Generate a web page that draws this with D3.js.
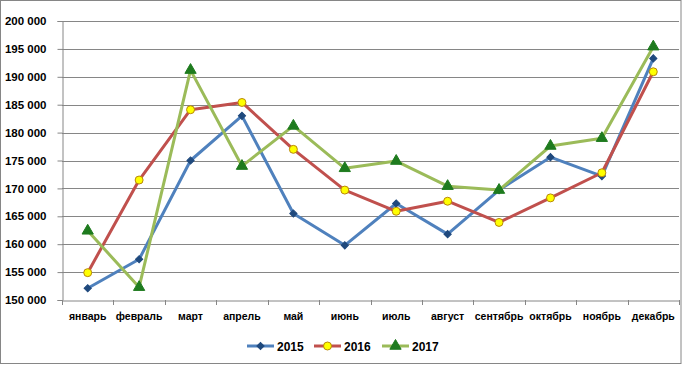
<!DOCTYPE html>
<html><head><meta charset="utf-8">
<script src="https://cdn.jsdelivr.net/npm/d3@7"></script>
<style>body{margin:0;background:#fff}svg{display:block}text{font-family:"Liberation Sans",Arial,sans-serif;font-weight:bold;fill:#000}</style>
</head><body>
<svg id="c" width="682" height="365"></svg>
<script>
const months = ["январь","февраль","март","апрель","май","июнь","июль","август","сентябрь","октябрь","ноябрь","декабрь"];
const s2015 = [152100,157300,175000,183000,165500,159800,167300,161800,169700,175600,172200,193300];
const s2016 = [154900,171500,184100,185400,177000,169700,165900,167700,163900,168300,172800,190900];
const s2017 = [162400,152300,191200,174000,181200,173600,174900,170400,169700,177600,179000,195400];
const yTicks = [150000,155000,160000,165000,170000,175000,180000,185000,190000,195000,200000];
const seriesNames = ["2015","2016","2017"];

const svg = d3.select("#c");
svg.append("rect").attr("x",0.5).attr("y",0.5).attr("width",680.5).attr("height",363).attr("fill","#fff").attr("stroke","#868686");

const L=62,R=679,T=21,B=300;
const x = d3.scaleBand().domain(months).range([L,R]);
const y = d3.scaleLinear().domain([150000,200000]).range([B,T]);
const fmt = v => d3.format(",")(v).replace(/,/g," ");

svg.append("g").selectAll("line").data(yTicks.slice(1)).join("line")
  .attr("x1",L).attr("x2",R).attr("y1",d=>Math.round(y(d))+0.5).attr("y2",d=>Math.round(y(d))+0.5)
  .attr("stroke","#868686").attr("stroke-width",1);

const ya = svg.append("g").attr("transform",`translate(${L+0.5},0)`)
  .call(d3.axisLeft(y).tickValues(yTicks).tickFormat(fmt).tickSize(5).tickPadding(11));
ya.selectAll("path,line").attr("stroke","#868686");
ya.selectAll("text").style("font-size","11.5px").style("font-family","Liberation Sans, Arial").style("font-weight","bold").attr("fill","#000");

const xa = svg.append("g").attr("transform",`translate(0,${B+0.5})`)
  .call(d3.axisBottom(x).tickSize(0).tickPadding(12));
xa.selectAll("path").attr("stroke","#868686");
xa.selectAll("text").style("font-size","10.5px").style("font-family","Liberation Sans, Arial").style("font-weight","bold").attr("fill","#000");
svg.append("g").selectAll("line").data(d3.range(months.length+1)).join("line")
  .attr("x1",i=>Math.round(L+i*x.step())+0.5).attr("x2",i=>Math.round(L+i*x.step())+0.5)
  .attr("y1",B).attr("y2",B+5).attr("stroke","#868686");

const cx = m => x(m)+x.bandwidth()/2;
const series = [
  {name:"2015",data:s2015,line:"#4F81BD",shape:d3.symbolSquare,rot:45,fill:"#1F497D",stroke:"#1F497D",size:26},
  {name:"2016",data:s2016,line:"#C0504D",shape:d3.symbolCircle,rot:0,fill:"#FFFF00",stroke:"#B8860B",size:50},
  {name:"2017",data:s2017,line:"#9BBB59",shape:d3.symbolTriangle,rot:0,fill:"#1E7B1E",stroke:"#1E7B1E",size:55}
];
const line = d3.line().x((d,i)=>cx(months[i])).y(d=>y(d));
series.forEach(s=>{
  svg.append("path").attr("d",line(s.data)).attr("fill","none").attr("stroke",s.line).attr("stroke-width",3).attr("stroke-linejoin","round");
});
series.forEach(s=>{
  svg.append("g").selectAll("path").data(s.data).join("path")
    .attr("transform",(d,i)=>`translate(${cx(months[i])},${y(d)}) rotate(${s.rot})`)
    .attr("d",d3.symbol().type(s.shape).size(s.size)())
    .attr("fill",s.fill).attr("stroke",s.stroke).attr("stroke-width",1);
});

const lx=[247,314,382];
series.forEach((s,i)=>{
  const g = svg.append("g").attr("transform",`translate(${lx[i]},346)`);
  g.append("line").attr("x1",0).attr("x2",27).attr("y1",0).attr("y2",0).attr("stroke",s.line).attr("stroke-width",3);
  g.append("path").attr("transform",`translate(13.5,0) rotate(${s.rot})`).attr("d",d3.symbol().type(s.shape).size(s.size)())
    .attr("fill",s.fill).attr("stroke",s.stroke);
  g.append("text").attr("x",30).attr("y",4.5).style("font-size","12px").text(s.name);
});
</script>
</body></html>
